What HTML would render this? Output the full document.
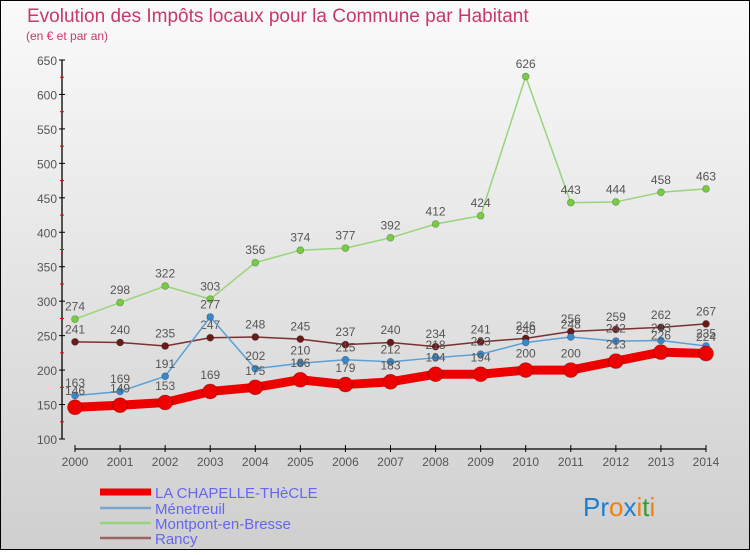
<!DOCTYPE html>
<html><head><meta charset="utf-8"><style>
html,body{margin:0;padding:0}
body{width:750px;height:550px;overflow:hidden;font-family:"Liberation Sans",sans-serif}
svg text{font-family:"Liberation Sans",sans-serif}
</style></head><body>
<svg id="c" width="750" height="550">
<defs><linearGradient id="bg" x1="0" y1="0" x2="0" y2="1"><stop offset="0" stop-color="#fafafa"/><stop offset="1" stop-color="#cfcfcf"/></linearGradient></defs>
<rect x="0.5" y="0.5" width="749" height="549" fill="url(#bg)" stroke="#000"/>
<text x="27" y="22" font-size="19" fill="#c8386a">Evolution des Impôts locaux pour la Commune par Habitant</text>
<text x="26" y="40" font-size="12" fill="#c8386a">(en € et par an)</text>
<g id="axes"></g><g id="series"></g>
<g>
<line x1="100" y1="492" x2="151" y2="492" stroke="#ee0000" stroke-width="7"/>
<text x="155" y="498" font-size="15" fill="#6666ee">LA CHAPELLE-THèCLE</text>
<line x1="100" y1="508" x2="151" y2="508" stroke="#79a6cf" stroke-width="2.5"/>
<text x="155" y="514" font-size="15" fill="#6666ee">Ménetreuil</text>
<line x1="100" y1="523" x2="151" y2="523" stroke="#99d47a" stroke-width="2.5"/>
<text x="155" y="529" font-size="15" fill="#6666ee">Montpont-en-Bresse</text>
<line x1="100" y1="538" x2="151" y2="538" stroke="#9a6464" stroke-width="2.5"/>
<text x="155" y="544" font-size="15" fill="#6666ee">Rancy</text>
</g>
<text x="583" y="516" font-size="26"><tspan fill="#1a7fd0">Pr</tspan><tspan fill="#f08010">o</tspan><tspan fill="#1a7fd0">x</tspan><tspan fill="#f08010">i</tspan><tspan fill="#30a030">t</tspan><tspan fill="#f08010">i</tspan></text>
</svg>
<script>
const years=[2000,2001,2002,2003,2004,2005,2006,2007,2008,2009,2010,2011,2012,2013,2014];
const yTicks=[100,150,200,250,300,350,400,450,500,550,600,650];
const chapelle=[146,149,153,169,175,186,179,183,194,194,200,200,213,226,224];
const menetreuil=[163,169,191,277,202,210,215,212,218,223,240,248,242,243,235];
const montpont=[274,298,322,303,356,374,377,392,412,424,626,443,444,458,463];
const rancy=[241,240,235,247,248,245,237,240,234,241,246,256,259,262,267];
const NS='http://www.w3.org/2000/svg';
function xs(i){return 75+i*(706-75)/(years.length-1);}
function ys(v){return 439-(v-100)*(439-60)/550;}
function mk(t,a,p){const e=document.createElementNS(NS,t);for(const k in a)e.setAttribute(k,a[k]);p.appendChild(e);return e;}
const ax=document.getElementById('axes');
let e=mk('line',{x1:62,y1:60,x2:62,y2:439,stroke:'#000','stroke-width':1.3},ax);


yTicks.forEach((v,i)=>{const y=ys(v);
 mk('line',{x1:59,y1:y,x2:65,y2:y,stroke:'#000'},ax);
 if(i<yTicks.length-1){mk('line',{x1:60,y1:y-17.2,x2:64,y2:y-17.2,stroke:'#e00'},ax);}
 const t=mk('text',{x:57,y:y+5,'font-size':12,fill:'#555','text-anchor':'end'},ax);t.textContent=v;
 
 
});
e=mk('line',{x1:75,y1:449,x2:706,y2:449,stroke:'#000','stroke-width':1.3},ax);


years.forEach((yr,i)=>{const x=xs(i);
 mk('line',{x1:x,y1:445,x2:x,y2:452,stroke:'#000'},ax);
 const t=mk('text',{x:x,y:466,'font-size':12,fill:'#555','text-anchor':'middle'},ax);t.textContent=yr;
 
 
});
const sg=document.getElementById('series');
function draw(vals,name,col,w,r,dot){
 const g=mk('g',{},sg);
 
 
 const pts=vals.map((v,i)=>xs(i)+','+ys(v)).join(' ');
 mk('polyline',{points:pts,fill:'none',stroke:col,'stroke-width':w,'stroke-linejoin':'round'},g);
 vals.forEach((v,i)=>{
  const c=mk('circle',{cx:xs(i),cy:ys(v),r:r,fill:dot,stroke:'rgba(0,0,0,0.25)','stroke-width':0.8},g);
  
  
  const t=mk('text',{x:xs(i),y:ys(v)-r-5,'font-size':12,fill:'#555','text-anchor':'middle'},g);t.textContent=v;
  
  
 });
}
draw(montpont,'montpont','#99d47a',1.5,3.5,'#77cc44');
draw(rancy,'rancy','#7a3030',1.5,3.5,'#6b1a1a');
draw(menetreuil,'menetreuil','#5aa0d8',1.5,3.5,'#3a88cc');
draw(chapelle,'chapelle','#ee0000',9,7.5,'#ee0000');
</script>
</body></html>
